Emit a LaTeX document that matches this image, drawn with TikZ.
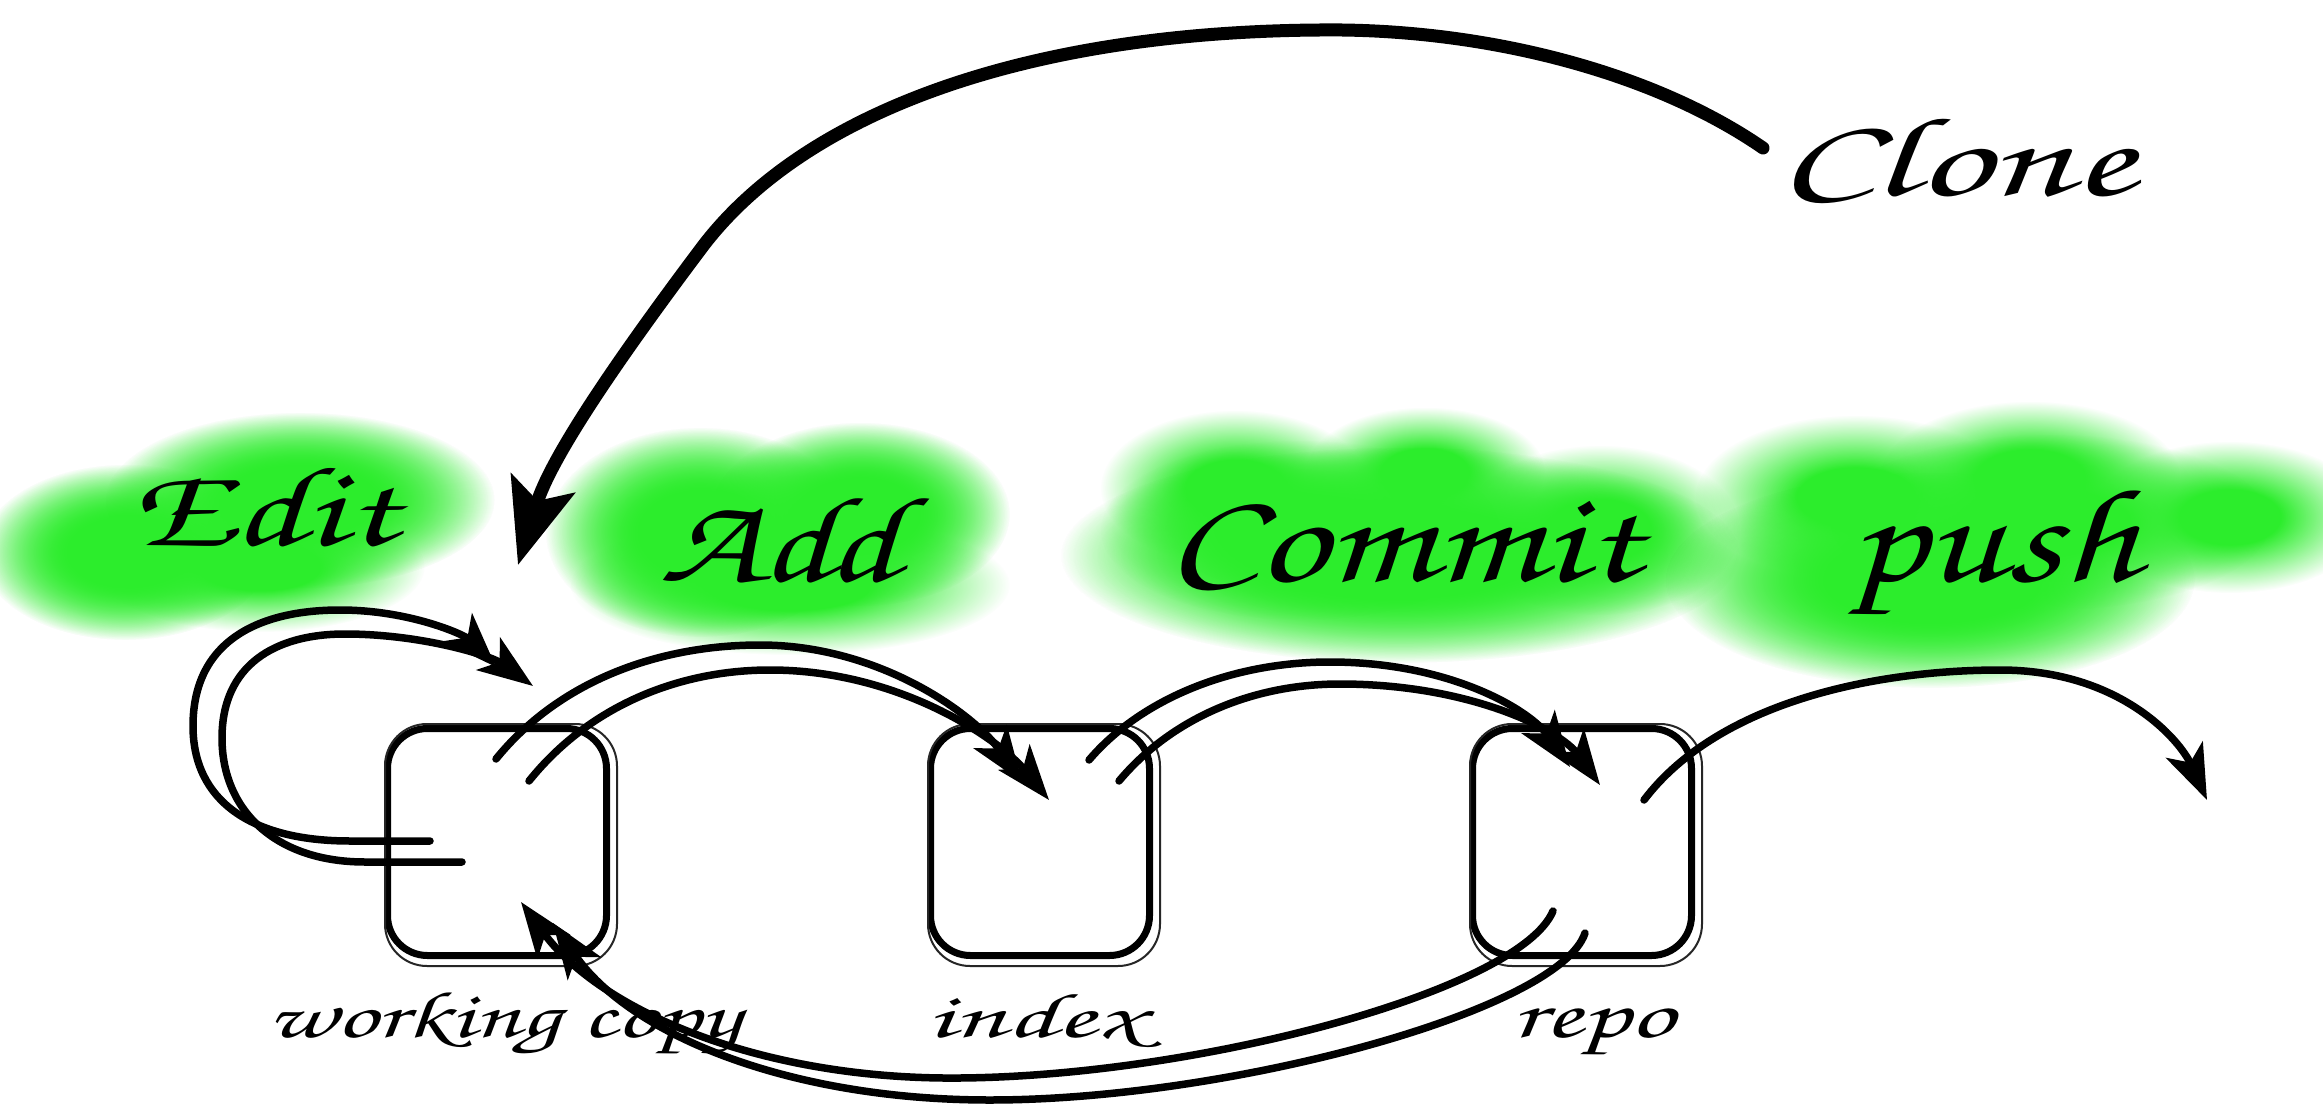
\documentclass[tikz,border=0pt]{standalone}
\usepackage[T1,TU]{fontenc}
\usepackage{graphicx}
\usetikzlibrary{arrows.meta,fadings}
\definecolor{blobgreen}{RGB}{44,237,44}
\pgfdeclareradialshading{softblobshade}{\pgfpointorigin}{color(0pt)=(pgftransparent!0); color(9pt)=(pgftransparent!0); color(25pt)=(pgftransparent!100); color(50pt)=(pgftransparent!100)}
\pgfdeclarefading{softblob}{\pgfuseshading{softblobshade}}
\newcommand\handfont{\fontencoding{T1}\fontfamily{pzc}\fontseries{mb}\fontshape{it}\fontsize{40}{48}\selectfont}
\newcommand\handword[3]{\resizebox{#1}{#2}{\handfont #3}}
\tikzset{
  blob/.style={fill=blobgreen, path fading=softblob},
  stagebox/.style={draw=black, line width=7pt, rounded corners=40pt, minimum width=219pt, minimum height=227pt, inner sep=0pt},
  sketchline/.style={draw=black!85, line width=2pt, rounded corners=42pt},
  word/.style={anchor=base west, inner sep=0pt, outer sep=0pt},
  flow/.style={line width=7.5pt, line cap=round, -{Stealth[length=55pt,width=40pt,inset=14pt]}},
  clonearrow/.style={line width=13pt, line cap=round, -{Stealth[length=85pt,width=66pt,inset=18pt]}},
}
\begin{document}
\begin{tikzpicture}[x=1pt,y=-1pt]
\fill[white] (0,0) rectangle (2323,1107);
\useasboundingbox (0,0) rectangle (2323,1107);

% green highlight blobs
\fill[blob] (125,552) ellipse [x radius=145, y radius=88];
\fill[blob] (300,500) ellipse [x radius=195, y radius=88];
\fill[blob] (260,567) ellipse [x radius=165, y radius=65];
\fill[blob] (125,552) ellipse [x radius=145, y radius=88];
\fill[blob] (300,500) ellipse [x radius=195, y radius=88];

\fill[blob] (700,532) ellipse [x radius=155, y radius=105];
\fill[blob] (860,514) ellipse [x radius=150, y radius=92];
\fill[blob] (790,585) ellipse [x radius=220, y radius=70];
\fill[blob] (700,532) ellipse [x radius=155, y radius=105];
\fill[blob] (860,514) ellipse [x radius=150, y radius=92];

\fill[blob] (1235,488) ellipse [x radius=135, y radius=78];
\fill[blob] (1425,472) ellipse [x radius=120, y radius=65];
\fill[blob] (1400,555) ellipse [x radius=340, y radius=108];
\fill[blob] (1600,530) ellipse [x radius=140, y radius=85];
\fill[blob] (1400,555) ellipse [x radius=340, y radius=108];
\fill[blob] (1300,530) ellipse [x radius=200, y radius=90];

\fill[blob] (1855,497) ellipse [x radius=160, y radius=82];
\fill[blob] (2030,477) ellipse [x radius=150, y radius=76];
\fill[blob] (1930,580) ellipse [x radius=265, y radius=108];
\fill[blob] (2230,517) ellipse [x radius=140, y radius=76];
\fill[blob] (1930,580) ellipse [x radius=265, y radius=108];
\fill[blob] (2050,522) ellipse [x radius=220, y radius=88];

% words
\node[word] (clone)  at (1778,196) {\handword{356pt}{80pt}{Clone}};
\node[word] (edit)   at (130,545)  {\handword{267pt}{81pt}{Edit}};
\node[word] (add)    at (659,581)  {\handword{240pt}{87pt}{Add}};
\node[word] (commit) at (1166,581) {\handword{474pt}{80pt}{Commit}};
\node[word] (push)   at (1849,581) {\handword{289pt}{95pt}{push}};

% stage boxes
\node[stagebox] (wc)    at (497,842)  {};
\node[stagebox] (index) at (1040,842) {};
\node[stagebox] (repo)  at (1582,842) {};
\foreach \b in {wc,index,repo}{
  \path[sketchline] ([shift={(1pt,-7pt)}]\b.south west) rectangle ([shift={(7pt,1pt)}]\b.north east);
}

\node[word] (wclabel)    at (267,1037)  {\handword{474pt}{47pt}{working copy}};
\node[word] (indexlabel) at (926,1037)  {\handword{218pt}{45pt}{index}};
\node[word] (repolabel)  at (1511,1037) {\handword{163pt}{30pt}{repo}};

% connector end points
\coordinate (e1s) at (430,841);  \coordinate (e1t) at (496,667);
\coordinate (e2s) at (462,862);  \coordinate (e2t) at (533,686);
\coordinate (a1s) at (496,759);  \coordinate (a1t) at (1022,782);
\coordinate (a2s) at (529,781);  \coordinate (a2t) at (1049,800);
\coordinate (c1s) at (1089,760); \coordinate (c1t) at (1570,767);
\coordinate (c2s) at (1119,781); \coordinate (c2t) at (1600,785);
\coordinate (ps)  at (1644,800); \coordinate (pt)  at (2207,800);
\coordinate (f1s) at (1553,911); \coordinate (f1t) at (521,902);
\coordinate (f2s) at (1585,933); \coordinate (f2t) at (553,923);
\coordinate (cls) at (1763,148); \coordinate (clt) at (518,565);

% edit loops
\draw[flow] (e1s) -- (350,841) .. controls (250,841) and (193,800) .. (193,726)
  .. controls (193,640) and (260,610) .. (340,610) .. controls (410,610) and (465,635) .. (e1t);
\draw[flow] (e2s) -- (365,862) .. controls (275,862) and (222,810) .. (222,738)
  .. controls (222,665) and (275,634) .. (345,634) .. controls (420,634) and (490,655) .. (e2t);

% add
\draw[flow] (a1s) .. controls (560,680) and (660,645) .. (760,645) .. controls (880,645) and (975,715) .. (a1t);
\draw[flow] (a2s) .. controls (590,705) and (680,670) .. (770,670) .. controls (900,670) and (1000,740) .. (a2t);

% commit
\draw[flow] (c1s) .. controls (1140,700) and (1230,662) .. (1330,662) .. controls (1450,662) and (1530,710) .. (c1t);
\draw[flow] (c2s) .. controls (1170,720) and (1250,684) .. (1340,684) .. controls (1470,684) and (1560,730) .. (c2t);

% push
\draw[flow] (ps) .. controls (1720,700) and (1880,670) .. (2000,670) .. controls (2120,670) and (2180,740) .. (pt);

% back to working copy
\draw[flow] (f1s) .. controls (1520,990) and (1200,1076) .. (960,1078) .. controls (760,1080) and (600,1010) .. (f1t);
\draw[flow] (f2s) .. controls (1560,1010) and (1230,1100) .. (990,1100) .. controls (790,1100) and (630,1035) .. (f2t);

% clone
\draw[clonearrow] (cls) .. controls (1650,70) and (1480,28) .. (1320,30)
  .. controls (1020,32) and (800,115) .. (700,250) .. controls (610,370) and (550,460) .. (clt);
\end{tikzpicture}
\end{document}
